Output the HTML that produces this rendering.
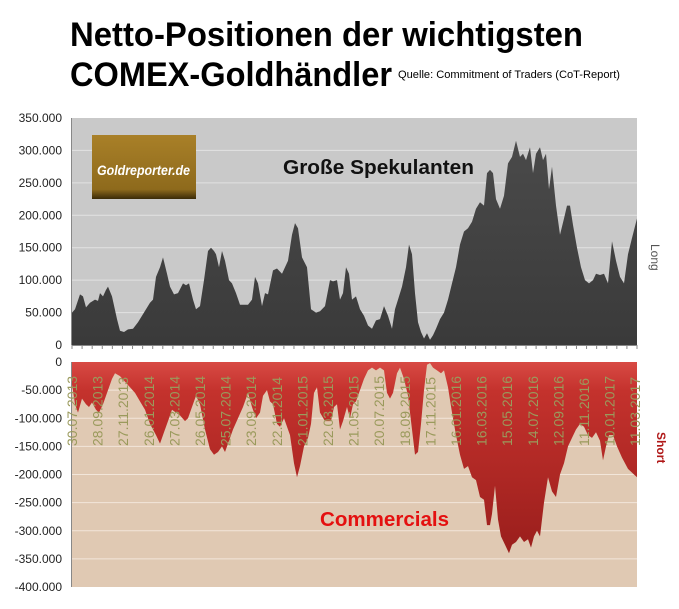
<!DOCTYPE html>
<html><head><meta charset="utf-8"><style>
html,body{margin:0;padding:0;background:#fff;}
svg{display:block;font-family:"Liberation Sans",sans-serif;}
</style></head><body>
<svg id="s" width="679" height="609" viewBox="0 0 679 609" xmlns="http://www.w3.org/2000/svg">
<defs>
<linearGradient id="gt" x1="0" y1="0" x2="0" y2="1"><stop offset="0" stop-color="#4a4a4a"/><stop offset="1" stop-color="#3a3a3a"/></linearGradient>
<linearGradient id="gb" x1="0" y1="0" x2="0" y2="1"><stop offset="0" stop-color="#d84a44"/><stop offset="0.15" stop-color="#c4322d"/><stop offset="1" stop-color="#9a1e1c"/></linearGradient>
<linearGradient id="gl" x1="0" y1="0" x2="0" y2="1"><stop offset="0" stop-color="#a98028"/><stop offset="0.85" stop-color="#8e6a1c"/><stop offset="1" stop-color="#3a2a08"/></linearGradient>
</defs>
<text x="70" y="46" font-size="34" font-weight="bold" textLength="513" lengthAdjust="spacingAndGlyphs">Netto-Positionen der wichtigsten</text>
<text x="70" y="86" font-size="34" font-weight="bold" textLength="322" lengthAdjust="spacingAndGlyphs">COMEX-Goldhändler</text>
<text x="398" y="78" font-size="11" textLength="222" lengthAdjust="spacingAndGlyphs">Quelle: Commitment of Traders (CoT-Report)</text>
<rect x="72" y="118" width="565" height="227" fill="#c9c9c9"/>
<rect x="72" y="362" width="565" height="225" fill="#e0c9b3"/>
<g id="grid"></g>
<path id="pt" fill="url(#gt)"/>
<path id="pb" fill="url(#gb)"/>
<g id="ax" stroke="#888" stroke-width="1"></g>
<g id="lbl" font-size="12" fill="#222" text-anchor="end"></g>
<g id="dates" font-size="14" fill="#9a9a5c"></g>
<rect x="92" y="135" width="104" height="64" fill="url(#gl)"/>
<text x="97" y="175" font-size="14" font-weight="bold" font-style="italic" fill="#fff" textLength="93" lengthAdjust="spacingAndGlyphs">Goldreporter.de</text>
<text x="283" y="174" font-size="20" font-weight="bold" fill="#111" textLength="191" lengthAdjust="spacingAndGlyphs">Große Spekulanten</text>
<text x="320" y="526" font-size="20" font-weight="bold" fill="#e41010" textLength="129" lengthAdjust="spacingAndGlyphs">Commercials</text>
<text transform="translate(651,244) rotate(90)" font-size="12" fill="#555">Long</text>
<text transform="translate(657,432) rotate(90)" font-size="12" font-weight="bold" fill="#b01818">Short</text>
</svg>
<script>
var NS="http://www.w3.org/2000/svg";
function el(p,t,a,txt){var e=document.createElementNS(NS,t);for(var k in a)e.setAttribute(k,a[k]);if(txt!=null)e.textContent=txt;document.getElementById(p).appendChild(e);return e;}
var topData=[72,50,75,55,80,78,83,75,86,58,90,65,95,70,98,68,100,80,103,75,106,85,108,90,112,75,117,40,120,22,124,20,128,24,133,25,138,35,142,45,146,55,150,65,153,70,156,105,160,120,163,135,167,110,170,90,174,78,178,80,183,95,186,92,189,95,193,70,196,55,200,60,204,100,208,145,211,150,214,145,216,140,219,120,222,145,225,130,229,100,232,95,236,80,240,62,248,62,252,70,255,105,258,95,262,60,265,80,268,78,273,115,277,118,282,110,288,130,292,170,295,188,298,180,302,135,307,120,311,55,316,50,320,52,325,60,330,100,333,98,337,100,340,70,343,80,346,120,349,110,352,70,356,75,360,55,364,45,368,30,372,25,376,38,380,40,384,60,388,45,392,25,395,55,398,70,402,90,406,120,409,155,412,140,415,80,418,35,421,20,424,10,427,18,430,8,433,15,436,25,440,40,444,50,448,70,452,95,456,120,460,155,464,175,468,180,472,190,476,210,480,220,484,215,487,265,490,270,493,265,496,225,500,210,504,230,508,280,512,290,516,315,520,290,523,295,526,285,530,305,533,265,536,295,540,305,543,285,546,295,549,240,552,275,556,215,560,170,564,195,567,215,570,215,573,185,577,150,581,120,585,100,589,95,593,100,596,110,600,108,604,110,608,95,612,160,616,130,620,105,624,95,628,140,632,165,637,195];
var botData=[72,40,75,75,78,90,82,65,86,75,89,80,92,72,96,85,99,90,103,75,108,50,112,30,115,20,120,25,125,35,130,45,135,55,140,70,145,85,150,110,156,130,160,145,164,125,168,105,172,85,176,90,180,95,185,105,188,100,192,80,196,60,200,75,205,120,210,155,214,165,218,160,222,150,225,160,228,145,233,120,238,100,243,80,248,55,252,80,256,100,260,90,263,60,267,50,270,70,273,75,277,110,280,115,284,100,290,130,294,180,297,205,300,185,304,150,308,135,311,110,314,55,317,45,320,90,325,105,331,105,334,80,337,75,340,120,343,105,347,80,350,100,353,75,356,70,360,50,364,30,368,15,372,10,376,15,380,10,384,15,387,55,390,65,393,55,397,20,400,10,404,30,408,60,412,120,415,165,418,160,421,110,424,50,427,5,430,2,433,10,437,15,441,20,444,15,448,45,452,90,456,130,460,165,464,190,468,185,472,205,476,210,480,240,484,245,487,290,490,290,492,270,495,220,498,280,501,310,505,325,509,340,512,325,516,320,520,310,524,320,528,315,531,330,534,310,537,300,540,310,544,250,548,205,552,230,556,240,560,200,564,180,568,150,572,135,576,120,580,110,584,115,588,130,592,135,596,125,600,140,603,175,606,150,609,130,613,130,617,150,622,170,628,190,637,205];
var d="M72,345";for(var i=0;i<topData.length;i+=2)d+=" L"+topData[i]+","+(345-topData[i+1]*0.6486).toFixed(1);d+=" L637,345Z";document.getElementById('pt').setAttribute('d',d);
d="M72,362";for(i=0;i<botData.length;i+=2)d+=" L"+botData[i]+","+(362+botData[i+1]*0.5625).toFixed(1);d+=" L637,362Z";document.getElementById('pb').setAttribute('d',d);
for(i=0;i<=7;i++){var y=345-i*32.43;if(i>0&&i<7)el('grid','line',{x1:72,x2:637,y1:y,y2:y,stroke:'#e2e2e2','stroke-width':1});
el('lbl','text',{x:62,y:y+4},i==0?'0':(i*50)+'.000');}
for(i=0;i<=8;i++){var y2=362+i*28.125;if(i>0&&i<8)el('grid','line',{x1:72,x2:637,y1:y2,y2:y2,stroke:'#f2e6da','stroke-width':1});
el('lbl','text',{x:62,y:y2+4},i==0?'0':'-'+(i*50)+'.000');}
el('ax','line',{x1:71.5,x2:71.5,y1:118,y2:345});el('ax','line',{x1:71.5,x2:637,y1:345.5,y2:345.5});el('ax','line',{x1:71.5,x2:71.5,y1:362,y2:587});
for(i=0;i<=56;i++){var x=72+i*565/56;el('ax','line',{x1:x,x2:x,y1:345,y2:349});}
var dates=["30.07.2013","28.09.2013","27.11.2013","26.01.2014","27.03.2014","26.05.2014","25.07.2014","23.09.2014","22.11.2014","21.01.2015","22.03.2015","21.05.2015","20.07.2015","18.09.2015","17.11.2015","16.01.2016","16.03.2016","15.05.2016","14.07.2016","12.09.2016","11.11.2016","10.01.2017","11.03.2017"];
for(i=0;i<dates.length;i++){var x=77+i*25.6;el('dates','text',{transform:'translate('+x+',446) rotate(-90)'},dates[i]);}
</script>
</body></html>
